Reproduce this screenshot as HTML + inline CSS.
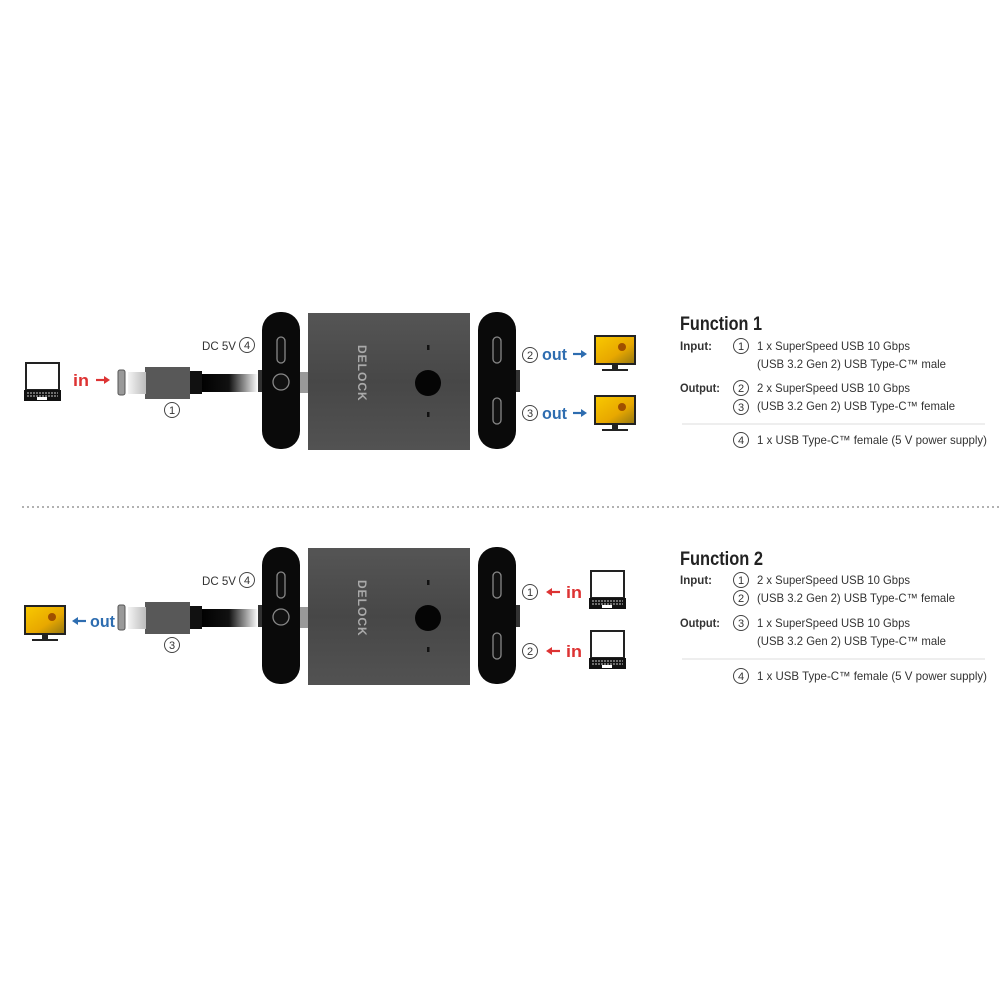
<!DOCTYPE html>
<html><head><meta charset="utf-8"><style>
html,body{margin:0;padding:0;background:#fff}
svg{display:block}
text{font-family:"Liberation Sans",sans-serif}
.n{font-size:11px;fill:#333;text-anchor:middle}
.t{font-size:12px;fill:#333}
.b{font-size:12px;font-weight:bold;fill:#333}
.cc{fill:#fff;stroke:#444;stroke-width:1}
</style></head><body>
<svg width="1000" height="1000" viewBox="0 0 1000 1000" xmlns="http://www.w3.org/2000/svg">
<defs>
<linearGradient id="cab" x1="0" x2="1" y1="0" y2="0"><stop offset="0" stop-color="#000"/><stop offset="0.5" stop-color="#111"/><stop offset="1" stop-color="#fff"/></linearGradient>
<linearGradient id="plug" x1="0" x2="1"><stop offset="0" stop-color="#f4f4f4"/><stop offset="1" stop-color="#bbb"/></linearGradient>
<linearGradient id="bod" x1="0" x2="0" y1="0" y2="1"><stop offset="0" stop-color="#555"/><stop offset="0.5" stop-color="#474747"/><stop offset="1" stop-color="#525252"/></linearGradient>
<linearGradient id="yel" x1="0" x2="1" y1="0" y2="1"><stop offset="0" stop-color="#f8c800"/><stop offset="0.6" stop-color="#e8a800"/><stop offset="1" stop-color="#9a7a10"/></linearGradient>
<g id="dev">
<rect x="300" y="372" width="10" height="21" fill="#999"/>
<rect x="258" y="370" width="6" height="22" fill="#333"/>
<rect x="514" y="370" width="6" height="22" fill="#333"/>
<rect x="262" y="312" width="38" height="137" rx="18" fill="#0a0a0a"/>
<rect x="277" y="337" width="8" height="26" rx="4" fill="#111" stroke="#888" stroke-width="1.3"/>
<circle cx="281" cy="382" r="8" fill="#111" stroke="#888" stroke-width="1.3"/>
<path d="M308 313 L470 313 L470 450 L308 450 Z" fill="url(#bod)"/>
<text x="0" y="0" transform="translate(358,345) rotate(90)" font-size="12" font-weight="bold" fill="#aaa" letter-spacing="1">DELOCK</text>
<circle cx="428" cy="383" r="13" fill="#050505"/>
<rect x="427" y="345" width="2.5" height="5" fill="#111"/>
<rect x="427" y="412" width="2.5" height="5" fill="#111"/>
<rect x="478" y="312" width="38" height="137" rx="18" fill="#0a0a0a"/>
<rect x="493" y="337" width="8" height="26" rx="4" fill="#111" stroke="#888" stroke-width="1.3"/>
<rect x="493" y="398" width="8" height="26" rx="4" fill="#111" stroke="#888" stroke-width="1.3"/>
<text x="202" y="350" font-size="12" fill="#333" textLength="34" lengthAdjust="spacingAndGlyphs">DC 5V</text>
<circle cx="247" cy="345" r="7.5" class="cc"/><text x="247" y="349" class="n">4</text>
<rect x="200" y="374" width="58" height="18" fill="url(#cab)"/>
<rect x="188" y="371" width="14" height="23" fill="#111"/>
<rect x="145" y="367" width="45" height="32" fill="#585858"/>
<rect x="128" y="372" width="18" height="22" fill="url(#plug)"/>
<rect x="118" y="370" width="7" height="25" rx="2" fill="#999" stroke="#555" stroke-width="1"/>
</g>
<g id="lap">
<rect x="1" y="1" width="33" height="27" fill="#fff" stroke="#222" stroke-width="2"/>
<rect x="-1" y="28" width="37" height="11" fill="#111"/>
<path d="M2 31 H33 M2 34 H33" stroke="#ccc" stroke-width="1" stroke-dasharray="2 1"/>
<rect x="12" y="35" width="10" height="3" fill="#fff"/>
</g>
<g id="mon">
<rect x="0" y="0" width="42" height="30" fill="#222"/>
<rect x="2" y="2" width="38" height="26" fill="url(#yel)"/>
<circle cx="28" cy="12" r="4" fill="#a05000"/>
<rect x="18" y="30" width="6" height="4" fill="#222"/>
<rect x="8" y="34" width="26" height="2" fill="#222"/>
</g>
<g id="ar"><path d="M0 0 H9" stroke-width="2.2"/><path d="M8 -4 L14 0 L8 4 Z" stroke="none"/></g>
</defs>

<!-- Top -->
<use href="#dev"/>
<use href="#lap" x="25" y="362"/>
<text x="73" y="386" font-size="17" font-weight="bold" fill="#d33" textLength="16" lengthAdjust="spacingAndGlyphs">in</text>
<use href="#ar" x="96" y="380" stroke="#d33" fill="#d33"/>
<circle cx="172" cy="410" r="7.5" class="cc"/><text x="172" y="414" class="n">1</text>
<circle cx="530" cy="355" r="7.5" class="cc"/><text x="530" y="359" class="n">2</text>
<text x="542" y="360" font-size="17" font-weight="bold" fill="#2e6db0" textLength="25" lengthAdjust="spacingAndGlyphs">out</text>
<use href="#ar" x="573" y="354" stroke="#2e6db0" fill="#2e6db0"/>
<use href="#mon" x="594" y="335"/>
<circle cx="530" cy="413" r="7.5" class="cc"/><text x="530" y="417" class="n">3</text>
<text x="542" y="419" font-size="17" font-weight="bold" fill="#2e6db0" textLength="25" lengthAdjust="spacingAndGlyphs">out</text>
<use href="#ar" x="573" y="413" stroke="#2e6db0" fill="#2e6db0"/>
<use href="#mon" x="594" y="395"/>

<!-- Bottom -->
<use href="#dev" y="235"/>
<use href="#mon" x="24" y="605"/>
<use href="#ar" transform="translate(86,621) scale(-1,1)" stroke="#2e6db0" fill="#2e6db0"/>
<text x="90" y="627" font-size="17" font-weight="bold" fill="#2e6db0" textLength="25" lengthAdjust="spacingAndGlyphs">out</text>
<circle cx="172" cy="645" r="7.5" class="cc"/><text x="172" y="649" class="n">3</text>
<circle cx="530" cy="592" r="7.5" class="cc"/><text x="530" y="596" class="n">1</text>
<use href="#ar" transform="translate(560,592) scale(-1,1)" stroke="#d33" fill="#d33"/>
<text x="566" y="598" font-size="17" font-weight="bold" fill="#d33" textLength="16" lengthAdjust="spacingAndGlyphs">in</text>
<use href="#lap" x="590" y="570"/>
<circle cx="530" cy="651" r="7.5" class="cc"/><text x="530" y="655" class="n">2</text>
<use href="#ar" transform="translate(560,651) scale(-1,1)" stroke="#d33" fill="#d33"/>
<text x="566" y="657" font-size="17" font-weight="bold" fill="#d33" textLength="16" lengthAdjust="spacingAndGlyphs">in</text>
<use href="#lap" x="590" y="630"/>

<!-- dotted divider -->
<line x1="22" y1="507" x2="1000" y2="507" stroke="#999" stroke-width="1.5" stroke-dasharray="2 3"/>

<!-- Function 1 text -->
<text x="680" y="330" font-size="19" font-weight="bold" fill="#222" textLength="82" lengthAdjust="spacingAndGlyphs">Function 1</text>
<text x="680" y="350" class="b" textLength="32" lengthAdjust="spacingAndGlyphs">Input:</text>
<circle cx="741" cy="346" r="7.5" class="cc"/><text x="741" y="350" class="n">1</text>
<text x="757" y="350" class="t" textLength="153" lengthAdjust="spacingAndGlyphs">1 x SuperSpeed USB 10 Gbps</text>
<text x="757" y="368" class="t" textLength="189" lengthAdjust="spacingAndGlyphs">(USB 3.2 Gen 2) USB Type-C™ male</text>
<text x="680" y="392" class="b" textLength="40" lengthAdjust="spacingAndGlyphs">Output:</text>
<circle cx="741" cy="388" r="7.5" class="cc"/><text x="741" y="392" class="n">2</text>
<text x="757" y="392" class="t" textLength="153" lengthAdjust="spacingAndGlyphs">2 x SuperSpeed USB 10 Gbps</text>
<circle cx="741" cy="407" r="7.5" class="cc"/><text x="741" y="411" class="n">3</text>
<text x="757" y="410" class="t" textLength="198" lengthAdjust="spacingAndGlyphs">(USB 3.2 Gen 2) USB Type-C™ female</text>
<line x1="682" y1="424" x2="985" y2="424" stroke="#ddd" stroke-width="1"/>
<circle cx="741" cy="440" r="7.5" class="cc"/><text x="741" y="444" class="n">4</text>
<text x="757" y="444" class="t" textLength="230" lengthAdjust="spacingAndGlyphs">1 x USB Type-C™ female (5 V power supply)</text>

<!-- Function 2 text -->
<text x="680" y="565" font-size="19" font-weight="bold" fill="#222" textLength="83" lengthAdjust="spacingAndGlyphs">Function 2</text>
<text x="680" y="584" class="b" textLength="32" lengthAdjust="spacingAndGlyphs">Input:</text>
<circle cx="741" cy="580" r="7.5" class="cc"/><text x="741" y="584" class="n">1</text>
<text x="757" y="584" class="t" textLength="153" lengthAdjust="spacingAndGlyphs">2 x SuperSpeed USB 10 Gbps</text>
<circle cx="741" cy="598" r="7.5" class="cc"/><text x="741" y="602" class="n">2</text>
<text x="757" y="602" class="t" textLength="198" lengthAdjust="spacingAndGlyphs">(USB 3.2 Gen 2) USB Type-C™ female</text>
<text x="680" y="627" class="b" textLength="40" lengthAdjust="spacingAndGlyphs">Output:</text>
<circle cx="741" cy="623" r="7.5" class="cc"/><text x="741" y="627" class="n">3</text>
<text x="757" y="627" class="t" textLength="153" lengthAdjust="spacingAndGlyphs">1 x SuperSpeed USB 10 Gbps</text>
<text x="757" y="645" class="t" textLength="189" lengthAdjust="spacingAndGlyphs">(USB 3.2 Gen 2) USB Type-C™ male</text>
<line x1="682" y1="659" x2="985" y2="659" stroke="#ddd" stroke-width="1"/>
<circle cx="741" cy="676" r="7.5" class="cc"/><text x="741" y="680" class="n">4</text>
<text x="757" y="680" class="t" textLength="230" lengthAdjust="spacingAndGlyphs">1 x USB Type-C™ female (5 V power supply)</text>
</svg>
</body></html>
